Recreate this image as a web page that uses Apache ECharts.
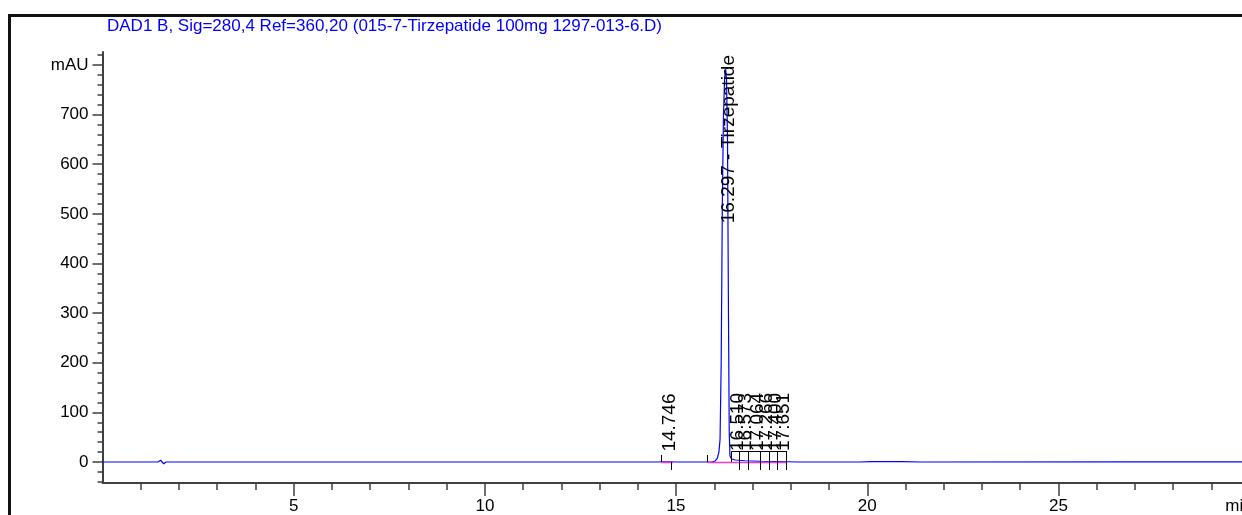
<!DOCTYPE html>
<html><head><meta charset="utf-8">
<script src="https://cdn.jsdelivr.net/npm/echarts@6/dist/echarts.min.js"></script>
<style>html,body{margin:0;padding:0;background:#fff}#c{width:1242px;height:515px}</style>
</head><body><div id="c"></div>
<script>
// ---------------- data ----------------
const chartTitle = "DAD1 B, Sig=280,4 Ref=360,20 (015-7-Tirzepatide 100mg 1297-013-6.D)";
const xUnitLabel = "min";
const yUnitLabel = "mAU";

// chromatogram trace (time in min, signal in mAU)
const times  = [0, 1.45, 1.52, 1.56, 1.60, 1.66, 14.50, 14.70, 14.75, 14.80, 15.00, 15.80, 15.95, 16.02, 16.08, 16.12, 16.15, 16.18, 16.21, 16.24, 16.27, 16.297, 16.32, 16.345, 16.37, 16.39, 16.41, 16.45, 16.55, 16.80, 17.20, 17.60, 17.90, 18.20, 19.80, 20.10, 20.50, 20.90, 21.40, 27.30, 29.80];
const signal = [0, 0, 3.5, 0, -3.5, 0, 0, 0.5, 0.8, 0.5, 0, 0, 0.3, 2, 8, 20, 45, 200, 520, 700, 775, 790, 770, 650, 300, 60, 12, 6, 4, 2.5, 1.5, 1, 0.5, 0, 0, 0.6, 0.9, 0.6, 0, 0.3, 0.3];

// integrated peaks
const peakTimes   = [14.746, 16.297, 16.510, 16.573, 17.064, 17.266, 17.400, 17.651];
const peakNames   = ["", "Tirzepatide", "", "", "", "", "", ""];
const peakHeights = [0.8, 790, 4, 3, 1.5, 1.2, 1, 0.8];

// integration baselines and peak-start events
const baselineStart = [14.60, 15.82];
const baselineEnd   = [14.92, 17.90];

// axes
const xMajorTicks = [5, 10, 15, 20, 25];
const xMinorTicks = [1, 2, 3, 4, 6, 7, 8, 9, 11, 12, 13, 14, 16, 17, 18, 19, 21, 22, 23, 24, 26, 27, 28, 29];
const xUnitAt = 29.72;
const yMajorTicks = [0, 100, 200, 300, 400, 500, 600, 700, 800];
const yMinorTicks = [-40, -20, 20, 40, 60, 80, 120, 140, 160, 180, 220, 240, 260, 280, 320, 340, 360, 380, 420, 440, 460, 480, 520, 540, 560, 580, 620, 640, 660, 680, 720, 740, 760, 780, 820];
const xMin = 0, xMax = 29.8;
const yMin = -42.3, yMax = 826;

// ---------------- style ----------------
const FONT = "'Liberation Sans', Arial, Helvetica, sans-serif";
const AXIS_COLOR = '#404040';
const TRACE_COLOR = '#0000ff';
const BASE_COLOR = '#f03cc8';
const LABEL_SIZE = 19;
const LABEL_DX = 3, LABEL_W = 14, LABEL_GAP = 8.7, CONNECT_UP = 11;

const mctx = document.createElement('canvas').getContext('2d');
function measure(t) { mctx.font = LABEL_SIZE + 'px "Liberation Sans"'; return mctx.measureText(t).width; }

function layoutLabels(api) {
  const base = api.coord([0, 0])[1];
  const top = api.coord([0, yMax])[1];
  const out = [];
  let prevX = -1e9;
  for (let i = 0; i < peakTimes.length; i++) {
    const text = peakNames[i] ? peakTimes[i].toFixed(3) + ' - ' + peakNames[i] : peakTimes[i].toFixed(3);
    const raw = api.coord([peakTimes[i], 0])[0] + LABEL_DX;
    let x = raw, crowded = false;
    if (raw - prevX < LABEL_W) { crowded = true; x = Math.max(raw, prevX + LABEL_GAP); }
    prevX = x;
    const w = measure(text);
    const yStart = crowded ? base - CONNECT_UP : api.coord([0, peakHeights[i]])[1] - 10;
    const topAnchored = !crowded && (yStart - w < top + 3);
    out.push({ text, x, yStart, w, crowded, topAnchored, base, top });
  }
  return out;
}

function renderLabel(params, api) {
  const L = layoutLabels(api);
  const i = params.dataIndex;
  const l = L[i];
  const children = [];
  const textStyle = { text: l.text, fontSize: LABEL_SIZE, fontFamily: FONT, fill: '#000', verticalAlign: 'middle' };
  if (l.topAnchored) {
    children.push({ type: 'text', x: l.x, y: l.top + 3, rotation: Math.PI / 2, style: Object.assign({ align: 'right' }, textStyle) });
  } else {
    children.push({ type: 'text', x: l.x, y: l.yStart, rotation: Math.PI / 2, style: Object.assign({ align: 'left' }, textStyle) });
  }
  const tx = Math.round(l.x + 2) + 0.5;
  if (l.crowded) {
    children.push({ type: 'line', shape: { x1: tx, y1: l.base - CONNECT_UP, x2: tx, y2: l.base + 8 }, style: { stroke: '#000', lineWidth: 1 } });
  } else if (!l.topAnchored) {
    children.push({ type: 'line', shape: { x1: tx, y1: l.base, x2: tx, y2: l.base + 8 }, style: { stroke: '#000', lineWidth: 1 } });
  }
  const next = L[i + 1];
  if (!l.crowded && next && next.crowded) {
    let j = i + 1;
    while (j + 1 < L.length && L[j + 1].crowded) j++;
    const y = Math.round(l.base - CONNECT_UP) + 0.5;
    children.push({ type: 'line', shape: { x1: tx, y1: y, x2: Math.round(L[j].x + 2) + 0.5, y2: y }, style: { stroke: '#000', lineWidth: 1 } });
    children.push({ type: 'line', shape: { x1: tx, y1: y, x2: tx, y2: l.base }, style: { stroke: '#000', lineWidth: 1 } });
  }
  return { type: 'group', children };
}

const chart = echarts.init(document.getElementById('c'), null, { renderer: 'canvas' });
chart.setOption({
  animation: false,
  backgroundColor: '#fff',
  title: {
    text: chartTitle, left: 107, top: 18, padding: 0,
    textStyle: { color: TRACE_COLOR, fontSize: 17, fontWeight: 'normal', fontFamily: FONT }
  },
  graphic: [
    { type: 'line', shape: { x1: 9.5, y1: 14, x2: 9.5, y2: 515 }, style: { stroke: '#111', lineWidth: 3 }, z: 100 },
    { type: 'line', shape: { x1: 8, y1: 15.5, x2: 1242, y2: 15.5 }, style: { stroke: '#111', lineWidth: 3 }, z: 100 }
  ],
  grid: { left: 102.5, right: 0, top: 52, bottom: 32, containLabel: false, outerBoundsMode: 'none' },
  xAxis: [
    {
      type: 'value', min: xMin, max: xMax, position: 'bottom',
      axisLine: { show: true, onZero: false, lineStyle: { color: AXIS_COLOR, width: 2 } },
      axisTick: { show: true, inside: false, length: 13, customValues: xMajorTicks, lineStyle: { color: AXIS_COLOR, width: 1.5 } },
      axisLabel: {
        show: true, customValues: xMajorTicks.concat([xUnitAt]), showMaxLabel: true, hideOverlap: false,
        formatter: v => (v === xUnitAt ? xUnitLabel : String(v)),
        fontSize: 17, color: '#000', fontFamily: FONT, margin: 15
      },
      splitLine: { show: false }, minorTick: { show: false }
    },
    {
      type: 'value', min: xMin, max: xMax, position: 'bottom',
      axisLine: { show: false, onZero: false },
      axisTick: { show: true, inside: false, length: 7, customValues: xMinorTicks, lineStyle: { color: AXIS_COLOR, width: 1.5 } },
      axisLabel: { show: false }, splitLine: { show: false }
    }
  ],
  yAxis: [
    {
      type: 'value', min: yMin, max: yMax, position: 'left',
      axisLine: { show: true, onZero: false, lineStyle: { color: AXIS_COLOR, width: 2 } },
      axisTick: { show: true, inside: false, length: 10, customValues: yMajorTicks, lineStyle: { color: AXIS_COLOR, width: 1.5 } },
      axisLabel: {
        show: true, customValues: yMajorTicks, hideOverlap: false,
        formatter: v => (v === 800 ? yUnitLabel : String(v)),
        fontSize: 17, color: '#000', fontFamily: FONT, margin: 14
      },
      splitLine: { show: false }
    },
    {
      type: 'value', min: yMin, max: yMax, position: 'left',
      axisLine: { show: false, onZero: false },
      axisTick: { show: true, inside: false, length: 5, customValues: yMinorTicks, lineStyle: { color: AXIS_COLOR, width: 1.5 } },
      axisLabel: { show: false }, splitLine: { show: false }
    }
  ],
  series: [
    {
      name: 'DAD1 B', type: 'line', xAxisIndex: 0, yAxisIndex: 0,
      data: times.map((t, i) => [t, signal[i]]),
      showSymbol: false, symbol: 'none', smooth: false,
      lineStyle: { color: TRACE_COLOR, width: 1.2 }, z: 3
    },
    {
      name: 'baseline', type: 'custom', xAxisIndex: 0, yAxisIndex: 0, clip: false,
      data: baselineStart.map((s, i) => [s, baselineEnd[i]]),
      renderItem: (params, api) => {
        const a = api.coord([api.value(0), 0]);
        const b = api.coord([api.value(1), 0]);
        return { type: 'line', shape: { x1: a[0], y1: a[1] + 0.5, x2: b[0], y2: b[1] + 0.5 }, style: { stroke: BASE_COLOR, lineWidth: 1.5 } };
      }, z: 4
    },
    {
      name: 'peak start', type: 'custom', xAxisIndex: 0, yAxisIndex: 0, clip: false,
      data: baselineStart.map(s => [s, 0]),
      renderItem: (params, api) => {
        const a = api.coord([api.value(0), 0]);
        const x = Math.round(a[0]) + 0.5;
        return { type: 'line', shape: { x1: x, y1: a[1], x2: x, y2: a[1] - 7 }, style: { stroke: '#000', lineWidth: 1 } };
      }, z: 5
    },
    {
      name: 'labels', type: 'custom', xAxisIndex: 0, yAxisIndex: 0, clip: false,
      data: peakTimes.map((t, i) => [t, peakHeights[i]]),
      renderItem: renderLabel, z: 6
    }
  ]
});
</script>
</body></html>
